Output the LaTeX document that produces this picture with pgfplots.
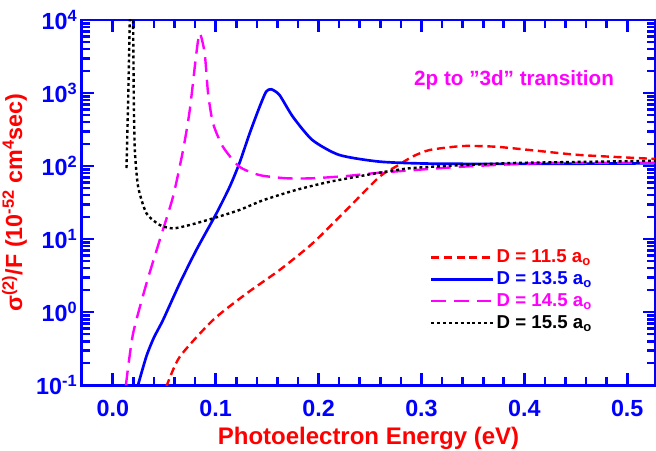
\documentclass[border=0pt]{standalone}
\usepackage{pgfplots}
\pgfplotsset{compat=1.18}
\usepackage{fontspec}
\setmainfont{Liberation Sans}
\definecolor{mag}{RGB}{255,0,255}
\begin{document}
\begin{tikzpicture}
\begin{axis}[
 scale only axis, width=430pt, height=274pt,
 xmin=-0.03, xmax=0.527, ymode=log, ymin=0.1, ymax=1e4,
 axis line style={blue, line width=2.2pt},
 every tick/.append style={blue, line width=2pt},
 every major tick/.append style={blue, line width=2pt},
 every minor tick/.append style={blue, line width=2pt},
 major tick length=9pt, minor tick length=6pt,
 xtick={0,0.1,0.2,0.3,0.4,0.5}, xticklabels={0.0,0.1,0.2,0.3,0.4,0.5},
 minor x tick num=4,
 ytick={0.1,1,10,100,1000,10000},
 yticklabels={10\textsuperscript{-1},10\textsuperscript{0},10\textsuperscript{1},10\textsuperscript{2},10\textsuperscript{3},10\textsuperscript{4}},
 tick label style={font=\fontsize{17.5}{20}\selectfont\bfseries, text=blue},
 xticklabel style={yshift=-8pt},
 xlabel={Photoelectron Energy (eV)},
 ylabel={σ\textsuperscript{(2)}/F (10\textsuperscript{-52} cm\textsuperscript{4}sec)},
 xlabel style={font=\fontsize{18}{21}\selectfont\bfseries, text=red, yshift=-1pt},
 ylabel style={font=\fontsize{17.5}{21}\selectfont\bfseries, text=red},
 legend style={draw=none, fill=none, at={(0.6,0.385)}, anchor=north west, font=\fontsize{14}{16}\selectfont\bfseries, row sep=1.2pt},
 legend cell align=left,
 legend image code/.code={\draw[#1] (0pt,0pt) -- (46pt,0pt);},
]
\addplot[red, line width=1.8pt, dash pattern=on 6pt off 3.5pt, smooth, tension=0.4] table {
0.052 0.095
0.065 0.244
0.0974 0.78
0.130 1.80
0.162 3.76
0.194 8.7
0.227 25
0.259 71
0.275 98
0.291 134
0.308 166
0.340 188
0.372 184
0.405 166
0.453 142
0.518 127
0.527 125
};
\addlegendentry{\textcolor{red}{D = 11.5 a\textsubscript{o}}}
\addplot[blue, line width=2pt, smooth, tension=0.4] table {
0.024 0.095
0.0327 0.25
0.040 0.45
0.0488 0.78
0.065 2.47
0.0812 7.1
0.1007 22.5
0.1136 52
0.123 109
0.133 280
0.1427 649
0.149 1043
0.154 1125
0.162 940
0.175 473
0.194 227
0.220 142
0.259 115
0.308 108
0.40 107
0.527 109
};
\addlegendentry{\textcolor{blue}{D = 13.5 a\textsubscript{o}}}
\addplot[mag, line width=1.8pt, dash pattern=on 11pt off 6pt, smooth, tension=0.4] table {
0.0130 0.1
0.0133 0.117
0.0197 0.51
0.0327 2.47
0.0456 9.7
0.0585 38
0.0683 166
0.0748 585
0.0812 3500
0.0845 6580
0.0893 3500
0.0926 990
0.0974 385
0.107 184
0.123 98
0.143 75
0.169 68
0.194 68
0.227 73
0.259 81
0.340 98
0.421 110
0.527 111
};
\addlegendentry{\textcolor{mag}{D = 14.5 a\textsubscript{o}}}
\addplot[black, line width=1.8pt, dash pattern=on 2.2pt off 2.2pt, smooth, tension=0.4] table {
0.0190 30000
0.0197 10000
0.0204 800
0.0214 166
0.0246 52
0.0327 22.5
0.0456 15.6
0.0585 14.0
0.0748 15.6
0.0974 19.2
0.123 25
0.146 34
0.178 47
0.211 61
0.259 81
0.291 94
0.340 103
0.388 110
0.437 113
0.527 118
};
\addlegendentry{\textcolor{black}{D = 15.5 a\textsubscript{o}}}
\addplot[black, line width=1.8pt, dash pattern=on 2.2pt off 2.2pt, forget plot] table {
0.0133 94
0.0149 801
0.0165 10000
0.0170 30000
};
\node[text=mag, font=\fontsize{15.5}{18}\selectfont\bfseries] at (axis cs:0.39,1500) {2p to "3d" transition};
\end{axis}
\pgfresetboundingbox
\path[use as bounding box] ([xshift=-61.5pt,yshift=-48.75pt]current axis.south west) rectangle ([xshift=0.75pt,yshift=15pt]current axis.north east);
\end{tikzpicture}
\end{document}
